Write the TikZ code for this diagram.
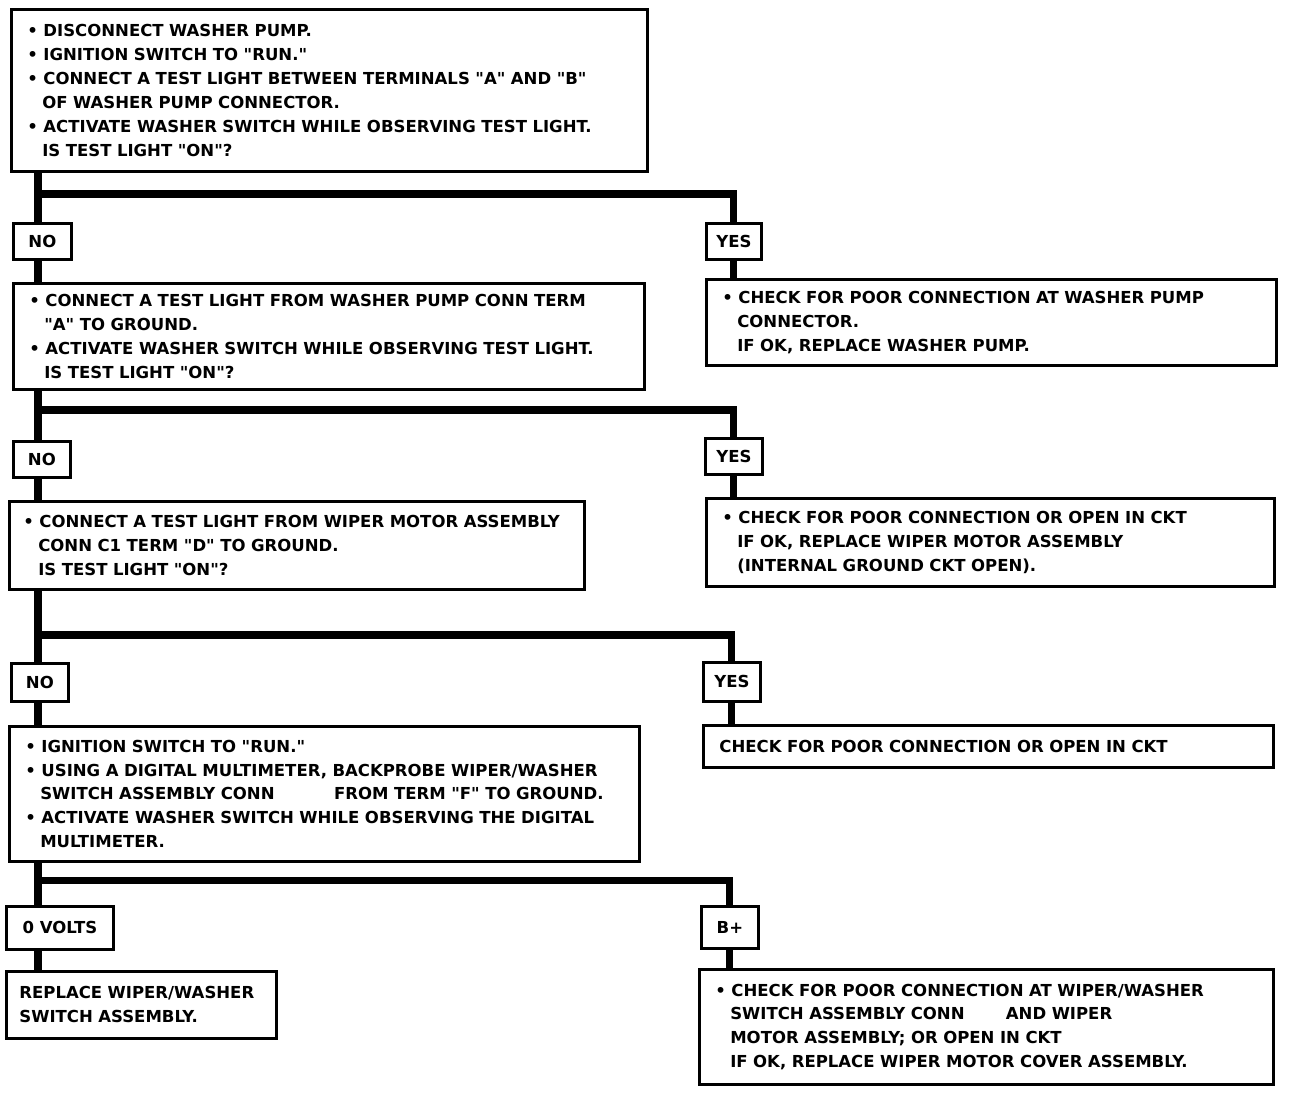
\documentclass[tikz,border=0pt]{standalone}
\usepackage{fontspec}
\setmainfont{DejaVu Sans}
\usepackage{tikz}
\usetikzlibrary{positioning,calc}
\newcommand{\qm}{\textquotedbl}

\begin{document}
\begin{tikzpicture}[
  x=0.2mm, y=-0.2mm,
  every node/.style={font=\bfseries\fontsize{9.4pt}{13.6pt}\selectfont},
  stepbox/.style={draw, line width=1.6pt, fill=white, anchor=north west, align=left, inner xsep=3.2mm, inner ysep=0pt},
  answer/.style={draw, line width=1.6pt, fill=white, anchor=north west, align=center, minimum width=11.4mm, minimum height=7.2mm, inner sep=0pt},
  link/.style={line width=4pt}
]
\useasboundingbox (0,0) rectangle (1296,1092);

\node[stepbox, minimum width=127.2mm, text width=120.8mm, minimum height=32.4mm] (q1) at (10,8)
  {• DISCONNECT WASHER PUMP.\\
   • IGNITION SWITCH TO \qm RUN.\qm\\
   • CONNECT A TEST LIGHT BETWEEN TERMINALS \qm A\qm{} AND \qm B\qm\\
   \hspace*{0.9em}OF WASHER PUMP CONNECTOR.\\
   • ACTIVATE WASHER SWITCH WHILE OBSERVING TEST LIGHT.\\
   \hspace*{0.9em}IS TEST LIGHT \qm ON\qm ?};
\node[answer, minimum width=11.6mm] (no1) at (12,222) {NO};
\node[answer, minimum width=11mm] (yes1) at (705,222) {YES};
\node[stepbox, minimum width=126.2mm, text width=119.8mm, minimum height=21.2mm] (q2) at (12,282)
  {• CONNECT A TEST LIGHT FROM WASHER PUMP CONN TERM\\
   \hspace*{0.9em}\qm A\qm{} TO GROUND.\\
   • ACTIVATE WASHER SWITCH WHILE OBSERVING TEST LIGHT.\\
   \hspace*{0.9em}IS TEST LIGHT \qm ON\qm ?};
\node[stepbox, minimum width=114mm, text width=107.6mm, minimum height=17.2mm] (r1) at (705,278)
  {• CHECK FOR POOR CONNECTION AT WASHER PUMP\\
   \hspace*{0.9em}CONNECTOR.\\
   \hspace*{0.9em}IF OK, REPLACE WASHER PUMP.};

\node[answer] (no2) at (12,440) {NO};
\node[answer] (yes2) at (704,437) {YES};
\node[stepbox, inner xsep=2.8mm, minimum width=115mm, text width=109.4mm, minimum height=17.6mm] (q3) at (8,500)
  {• CONNECT A TEST LIGHT FROM WIPER MOTOR ASSEMBLY\\
   \hspace*{0.9em}CONN C1 TERM \qm D\qm{} TO GROUND.\\
   \hspace*{0.9em}IS TEST LIGHT \qm ON\qm ?};
\node[stepbox, minimum width=113.6mm, text width=107.2mm, minimum height=17.6mm] (r2) at (705,497)
  {• CHECK FOR POOR CONNECTION OR OPEN IN CKT\\
   \hspace*{0.9em}IF OK, REPLACE WIPER MOTOR ASSEMBLY\\
   \hspace*{0.9em}(INTERNAL GROUND CKT OPEN).};

\node[answer, minimum height=7.6mm] (no3) at (10,662) {NO};
\node[answer, minimum height=7.8mm] (yes3) at (702,661) {YES};
\node[stepbox, minimum width=126mm, text width=119.6mm, minimum height=27mm] (q4) at (8,725)
  {• IGNITION SWITCH TO \qm RUN.\qm\\
   • USING A DIGITAL MULTIMETER, BACKPROBE WIPER/WASHER\\
   \hspace*{0.9em}SWITCH ASSEMBLY CONN\hspace{3.6em}FROM TERM \qm F\qm{} TO GROUND.\\
   • ACTIVATE WASHER SWITCH WHILE OBSERVING THE DIGITAL\\
   \hspace*{0.9em}MULTIMETER.};
\node[stepbox, minimum width=114mm, text width=107.6mm, minimum height=8.4mm] (r3) at (702,724)
  {CHECK FOR POOR CONNECTION OR OPEN IN CKT};

\node[answer, minimum width=21.4mm, minimum height=8.6mm] (volt0) at (5,905) {0 VOLTS};
\node[answer, minimum height=8.4mm] (bplus) at (700,905) {B+};
\node[stepbox, inner xsep=2.6mm, minimum width=54mm, text width=48.8mm, minimum height=13.4mm] (r4) at (5,970)
  {REPLACE WIPER/WASHER\\
   SWITCH ASSEMBLY.};
\node[stepbox, minimum width=114.8mm, text width=108.4mm, minimum height=23mm] (r5) at (698,968)
  {• CHECK FOR POOR CONNECTION AT WIPER/WASHER\\
   \hspace*{0.9em}SWITCH ASSEMBLY CONN\hspace{2.5em}AND WIPER\\
   \hspace*{0.9em}MOTOR ASSEMBLY; OR OPEN IN CKT\\
   \hspace*{0.9em}IF OK, REPLACE WIPER MOTOR COVER ASSEMBLY.};

\coordinate (trunk) at (38,0);
\coordinate (bar1) at (0,194);
\coordinate (bar2) at (0,410);
\coordinate (bar3) at (0,635);
\coordinate (bar4) at (0,880);

\draw[link] (q1.south -| trunk) -- (no1.north -| trunk);
\draw[link] (no1.south -| trunk) -- (q2.north -| trunk);
\draw[link] (trunk |- bar1) -| (yes1.north);
\draw[link] (yes1.south) -- (yes1.south |- r1.north);

\draw[link] (q2.south -| trunk) -- (no2.north -| trunk);
\draw[link] (no2.south -| trunk) -- (q3.north -| trunk);
\draw[link] (trunk |- bar2) -| (yes2.north);
\draw[link] (yes2.south) -- (yes2.south |- r2.north);

\draw[link] (q3.south -| trunk) -- (no3.north -| trunk);
\draw[link] (no3.south -| trunk) -- (q4.north -| trunk);
\draw[link] (trunk |- bar3) -| (yes3.north);
\draw[link] (yes3.south) -- (yes3.south |- r3.north);

\draw[link] (q4.south -| trunk) -- (volt0.north -| trunk);
\draw[link] (volt0.south -| trunk) -- (r4.north -| trunk);
\draw[link] (trunk |- bar4) -| (bplus.north);
\draw[link] (bplus.south) -- (bplus.south |- r5.north);
\end{tikzpicture}
\end{document}
